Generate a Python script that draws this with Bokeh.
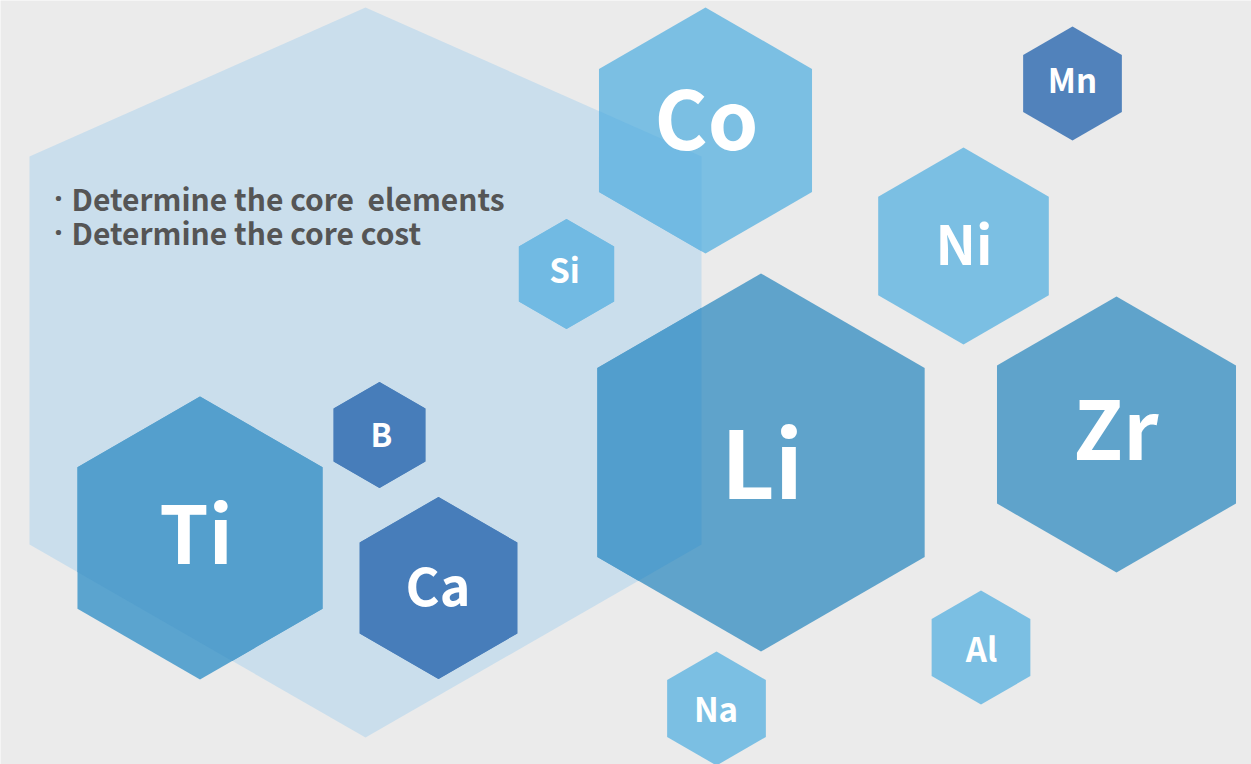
from bokeh.plotting import figure
from bokeh.models import Range1d, ColumnDataSource
from bokeh.core.properties import value
from bokeh.embed import file_html
from bokeh.resources import INLINE

# ---------------- data ----------------
elements = ["Co", "Li", "Zr", "Ni", "Mn", "Si", "B", "Ca", "Ti", "Al", "Na"]
# hexagon centres and circumradius (page pixels)
hex_cx = [705, 760.5, 1116, 963, 1072, 566, 379, 438, 199.5, 980.5, 716]
hex_cy = [130, 462, 434, 245.5, 83, 273.5, 434.5, 587.5, 537.5, 647, 708]
hex_r = [123, 189, 138, 98.5, 57, 55, 53, 91, 141.5, 57, 57]
# colour outside / inside the pale panel
color_out = ["#7bbfe3", "#5fa3cb", "#5fa3cb", "#7bbfe3", "#5182bb", "#7bbfe3",
             "#5182bb", "#5182bb", "#5ba4cf", "#7bbfe3", "#7bbfe3"]
color_in = ["#71bae3", "#529ecd", "#529ecd", "#71bae3", "#477dba", "#71bae3",
            "#477dba", "#477dba", "#549fcd", "#71bae3", "#71bae3"]
# label positions (centre x, baseline y) and font sizes
label_x = [706, 761.5, 1115.5, 963.5, 1072, 564, 381, 437.5, 195.5, 981, 715.5]
label_y = [152, 501, 462, 266, 94, 284, 447, 607, 566, 663, 723]
label_size = [81, 93, 81, 54, 33, 33, 32, 52, 79, 33, 33]

# pale panel (irregular hexagon): centre x, half width, top, upper shoulder, lower shoulder, bottom
panel_cx, panel_hw = 365, 336
panel_top, panel_sh_top, panel_sh_bot, panel_bot = 7, 156, 544, 737

bullets = ["Determine the core\u00a0\u00a0elements", "Determine the core cost"]
bullet_x = 71
bullet_dot_x = 58
bullet_y = [211, 245]
bullet_size = 30

BG = "#ebebeb"
PANEL = "#cadeec"
FONT = "Noto Sans CJK SC"
BASELINE_SHIFT = 0.465  # em, correction for svg alphabetic baseline


def hex_vertices(cx, cy, r):
    h = r * 3 ** 0.5 / 2
    xs = [cx, cx + h, cx + h, cx, cx - h, cx - h]
    ys = [cy - r, cy - r / 2, cy + r / 2, cy + r, cy + r / 2, cy - r / 2]
    return xs, ys


def clip_polygon(subject, clip):
    # Sutherland-Hodgman with convex clip polygon
    area = 0
    for i in range(len(clip)):
        x1, y1 = clip[i]
        x2, y2 = clip[(i + 1) % len(clip)]
        area += x1 * y2 - x2 * y1
    sign = 1 if area > 0 else -1

    def inside(p, a, b):
        return sign * ((b[0] - a[0]) * (p[1] - a[1]) - (b[1] - a[1]) * (p[0] - a[0])) >= 0

    def intersect(p, q, a, b):
        x1, y1 = p
        x2, y2 = q
        x3, y3 = a
        x4, y4 = b
        den = (x1 - x2) * (y3 - y4) - (y1 - y2) * (x3 - x4)
        t = ((x1 - x3) * (y3 - y4) - (y1 - y3) * (x3 - x4)) / den
        return (x1 + t * (x2 - x1), y1 + t * (y2 - y1))

    output = list(subject)
    for i in range(len(clip)):
        a = clip[i]
        b = clip[(i + 1) % len(clip)]
        inp = output
        output = []
        if not inp:
            break
        s = inp[-1]
        for e in inp:
            if inside(e, a, b):
                if not inside(s, a, b):
                    output.append(intersect(s, e, a, b))
                output.append(e)
            elif inside(s, a, b):
                output.append(intersect(s, e, a, b))
            s = e
    return output


# ---------------- figure ----------------
W, H = 1251, 764
p = figure(width=W, height=H, x_range=Range1d(0, W), y_range=Range1d(H, 0),
           x_axis_type=None, y_axis_type=None, toolbar_location=None,
           output_backend="svg", min_border=0)
p.background_fill_color = BG
p.border_fill_color = BG
p.outline_line_color = None
p.grid.visible = False

panel_xs = [panel_cx, panel_cx + panel_hw, panel_cx + panel_hw, panel_cx,
            panel_cx - panel_hw, panel_cx - panel_hw]
panel_ys = [panel_top, panel_sh_top, panel_sh_bot, panel_bot, panel_sh_bot, panel_sh_top]
p.patch(panel_xs, panel_ys, fill_color=PANEL, line_color=None)

hx, hy = [], []
for cx, cy, r in zip(hex_cx, hex_cy, hex_r):
    xs, ys = hex_vertices(cx, cy, r)
    hx.append(xs)
    hy.append(ys)
p.patches(xs="xs", ys="ys", fill_color="color", line_color=None,
          source=ColumnDataSource(dict(xs=hx, ys=hy, color=color_out)))

panel_poly = list(zip(panel_xs, panel_ys))
ox, oy, oc = [], [], []
for xs, ys, c in zip(hx, hy, color_in):
    poly = clip_polygon(list(zip(xs, ys)), panel_poly)
    if len(poly) >= 3:
        ox.append([pt[0] for pt in poly])
        oy.append([pt[1] for pt in poly])
        oc.append(c)
p.patches(xs="xs", ys="ys", fill_color="color", line_color=None,
          source=ColumnDataSource(dict(xs=ox, ys=oy, color=oc)))

for lab, x, y, s in zip(elements, label_x, label_y, label_size):
    p.text(x=[x], y=[y - BASELINE_SHIFT * s], text=[lab], text_align="center",
           text_baseline="alphabetic", text_font=value(FONT), text_font_style="bold",
           text_color="white", text_font_size=f"{s}px")

by = [y - BASELINE_SHIFT * bullet_size for y in bullet_y]
p.text(x=[bullet_x] * len(bullets), y=by, text=bullets, text_align="left",
       text_baseline="alphabetic", text_font=value(FONT), text_font_style="bold",
       text_color="#555555", text_font_size=f"{bullet_size}px")
p.text(x=[bullet_dot_x] * len(bullets), y=by, text=["\u00b7"] * len(bullets),
       text_align="center", text_baseline="alphabetic", text_font=value("Noto Sans"),
       text_font_style="bold", text_color="#555555", text_font_size=f"{bullet_size}px")

open("out.html", "w").write(file_html(p, INLINE))
